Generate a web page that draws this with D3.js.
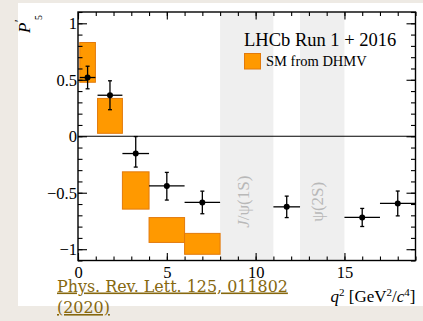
<!DOCTYPE html>
<html>
<head>
<meta charset="utf-8">
<script src="https://cdn.jsdelivr.net/npm/d3@7"></script>
<style>
  html, body { margin: 0; padding: 0; background: #eeeae4; }
  svg { display: block; }
</style>
</head>
<body>
<svg id="chart" width="423" height="321"></svg>
<script>
// measured bins (q2 ranges) and P5' values
const binLo = [0.1, 1.1, 2.5, 4, 6, 11, 15, 17];
const binHi = [0.98, 2.5, 4, 6, 8, 12.5, 17, 19];
const p5 = [0.52, 0.363, -0.153, -0.44, -0.586, -0.625, -0.719, -0.595];
const errUp = [0.10, 0.128, 0.15, 0.12, 0.10, 0.095, 0.08, 0.11];
const errDn = [0.10, 0.128, 0.12, 0.125, 0.10, 0.095, 0.08, 0.11];

// SM prediction boxes (DHMV)
const smLo = [0.1, 1.1, 2.5, 4, 6];
const smHi = [0.98, 2.5, 4, 6, 8];
const smMin = [0.478, 0.026, -0.645, -0.94, -1.045];
const smMax = [0.83, 0.335, -0.315, -0.72, -0.86];

// charmonium veto bands
const vetoLo = [8, 12.5];
const vetoHi = [11, 15];
const vetoLabels = ["J/ψ(1S)", "ψ(2S)"];

const xTicks = [0, 5, 10, 15];
const yTicks = [-1, -0.5, 0, 0.5, 1];

const svg = d3.select("#chart");
const serif = "'Liberation Serif', 'Times New Roman', serif";

// white panel
svg.append("rect")
  .attr("x", 18).attr("y", 3)
  .attr("width", 405).attr("height", 303)
  .attr("fill", "#fff");

const pLeft = 78, pRight = 415.5, pTop = 12, pBottom = 260.5;

const x = d3.scaleLinear().domain([0, 19]).range([pLeft, pRight]);
const y = d3.scaleLinear().domain([-1.1, 1.1]).range([pBottom, pTop]);

// veto bands
const bands = svg.append("g");
vetoLo.forEach((lo, i) => {
  bands.append("rect")
    .attr("x", x(lo)).attr("y", pTop)
    .attr("width", x(vetoHi[i]) - x(lo))
    .attr("height", pBottom - pTop)
    .attr("fill", "#efefef");
});

const labelX = [9.6, 13.8];
vetoLabels.forEach((t, i) => {
  svg.append("text")
    .attr("transform", `translate(${x(labelX[i])}, ${y(-0.58)}) rotate(-90)`)
    .attr("text-anchor", "middle")
    .style("font-family", serif)
    .style("font-size", "17px")
    .attr("fill", "#b8b8b8")
    .html(i === 0 ? "<tspan font-style='italic'>J</tspan>/ψ(1S)" : t);
});

// zero line
svg.append("line")
  .attr("x1", pLeft).attr("x2", pRight)
  .attr("y1", y(0)).attr("y2", y(0))
  .attr("stroke", "#000").attr("stroke-width", 1.2);

// SM boxes
smLo.forEach((lo, i) => {
  svg.append("rect")
    .attr("x", x(lo)).attr("y", y(smMax[i]))
    .attr("width", x(smHi[i]) - x(lo))
    .attr("height", y(smMin[i]) - y(smMax[i]))
    .attr("fill", "#ff9900")
    .attr("stroke", "#e27a0c")
    .attr("stroke-width", 1);
});

// data points with error bars
const pts = svg.append("g").attr("stroke", "#000").attr("stroke-width", 1.3);
p5.forEach((v, i) => {
  const cx = x((binLo[i] + binHi[i]) / 2);
  const cy = y(v);
  pts.append("line")
    .attr("x1", x(binLo[i])).attr("x2", x(binHi[i]))
    .attr("y1", cy).attr("y2", cy);
  pts.append("line")
    .attr("x1", cx).attr("x2", cx)
    .attr("y1", y(v + errUp[i])).attr("y2", y(v - errDn[i]));
  [v + errUp[i], v - errDn[i]].forEach(e => {
    pts.append("line")
      .attr("x1", cx - 2).attr("x2", cx + 2)
      .attr("y1", y(e)).attr("y2", y(e));
  });
  pts.append("circle")
    .attr("cx", cx).attr("cy", cy).attr("r", 3)
    .attr("fill", "#000").attr("stroke", "none");
});

// axes, ROOT style ticks pointing inward
function styleAxis(g) {
  g.select(".domain").remove();
  g.selectAll(".tick line").attr("stroke", "#000").attr("stroke-width", 1.1);
  g.selectAll("text")
    .style("font-family", serif)
    .style("font-size", "16.5px")
    .attr("fill", "#000");
}

const minorX = d3.range(0, 20);
const minorY = d3.range(-11, 12).map(i => i / 10);

svg.append("g").attr("transform", `translate(0,${pBottom})`)
  .call(d3.axisBottom(x).tickValues(xTicks).tickSize(-7.5).tickPadding(6).tickFormat(d3.format("d")))
  .call(styleAxis);
svg.append("g").attr("transform", `translate(0,${pBottom})`)
  .call(d3.axisBottom(x).tickValues(minorX).tickSize(-4).tickFormat(""))
  .call(styleAxis);
svg.append("g").attr("transform", `translate(0,${pTop})`)
  .call(d3.axisTop(x).tickValues(xTicks).tickSize(-7.5).tickFormat(""))
  .call(styleAxis);
svg.append("g").attr("transform", `translate(0,${pTop})`)
  .call(d3.axisTop(x).tickValues(minorX).tickSize(-4).tickFormat(""))
  .call(styleAxis);

svg.append("g").attr("transform", `translate(${pLeft},0)`)
  .call(d3.axisLeft(y).tickValues(yTicks).tickSize(-9).tickPadding(1).tickFormat(d3.format("")))
  .call(styleAxis);
svg.append("g").attr("transform", `translate(${pLeft},0)`)
  .call(d3.axisLeft(y).tickValues(minorY).tickSize(-4.5).tickFormat(""))
  .call(styleAxis);
svg.append("g").attr("transform", `translate(${pRight},0)`)
  .call(d3.axisRight(y).tickValues(yTicks).tickSize(-9).tickFormat(""))
  .call(styleAxis);
svg.append("g").attr("transform", `translate(${pRight},0)`)
  .call(d3.axisRight(y).tickValues(minorY).tickSize(-4.5).tickFormat(""))
  .call(styleAxis);

// frame
svg.append("rect")
  .attr("x", pLeft).attr("y", pTop)
  .attr("width", pRight - pLeft).attr("height", pBottom - pTop)
  .attr("fill", "none").attr("stroke", "#000").attr("stroke-width", 1.4);

// legend
svg.append("text")
  .attr("x", 244).attr("y", 46)
  .style("font-family", serif).style("font-size", "18.5px")
  .text("LHCb Run 1 + 2016");
svg.append("rect")
  .attr("x", 244.5).attr("y", 53.5).attr("width", 16).attr("height", 15.5)
  .attr("fill", "#ff9900").attr("stroke", "#e27a0c").attr("stroke-width", 1);
svg.append("text")
  .attr("x", 266).attr("y", 66)
  .style("font-family", serif).style("font-size", "14.5px")
  .text("SM from DHMV");

// y title P'_5
const yt = svg.append("g").attr("transform", "translate(30,33) rotate(-90)")
  .style("font-family", serif);
yt.append("text").attr("x", 0).attr("y", 0)
  .style("font-size", "17px").style("font-style", "italic").text("P");
yt.append("text").attr("x", 11).attr("y", -7)
  .style("font-size", "12px").text("′");
yt.append("text").attr("x", 13).attr("y", 12)
  .style("font-size", "10px").text("5");

// x title
svg.append("text")
  .attr("x", pRight).attr("y", 301.5)
  .attr("text-anchor", "end")
  .style("font-family", serif).style("font-size", "17px")
  .html("<tspan font-style='italic'>q</tspan><tspan dy='-6' font-size='11px'>2</tspan>" +
        "<tspan dy='6'> [GeV</tspan><tspan dy='-6' font-size='11px'>2</tspan>" +
        "<tspan dy='6'>/</tspan><tspan font-style='italic'>c</tspan>" +
        "<tspan dy='-6' font-size='11px'>4</tspan><tspan dy='6'>]</tspan>");

// reference link
const linkLines = ["Phys. Rev. Lett. 125, 011802", "(2020)"];
const link = svg.append("g")
  .style("font-family", "'DejaVu Serif', serif")
  .attr("fill", "#86680f");
const l1 = link.append("text").attr("x", 57).attr("y", 291.5)
  .style("font-size", "17px").style("text-decoration", "underline")
  .text(linkLines[0]);
const w = l1.node().getComputedTextLength();
const fs = 17 * 231 / w;
l1.style("font-size", fs + "px");
link.append("text").attr("x", 57).attr("y", 313)
  .style("font-size", fs + "px").style("text-decoration", "underline")
  .text(linkLines[1]);
</script>
</body>
</html>
